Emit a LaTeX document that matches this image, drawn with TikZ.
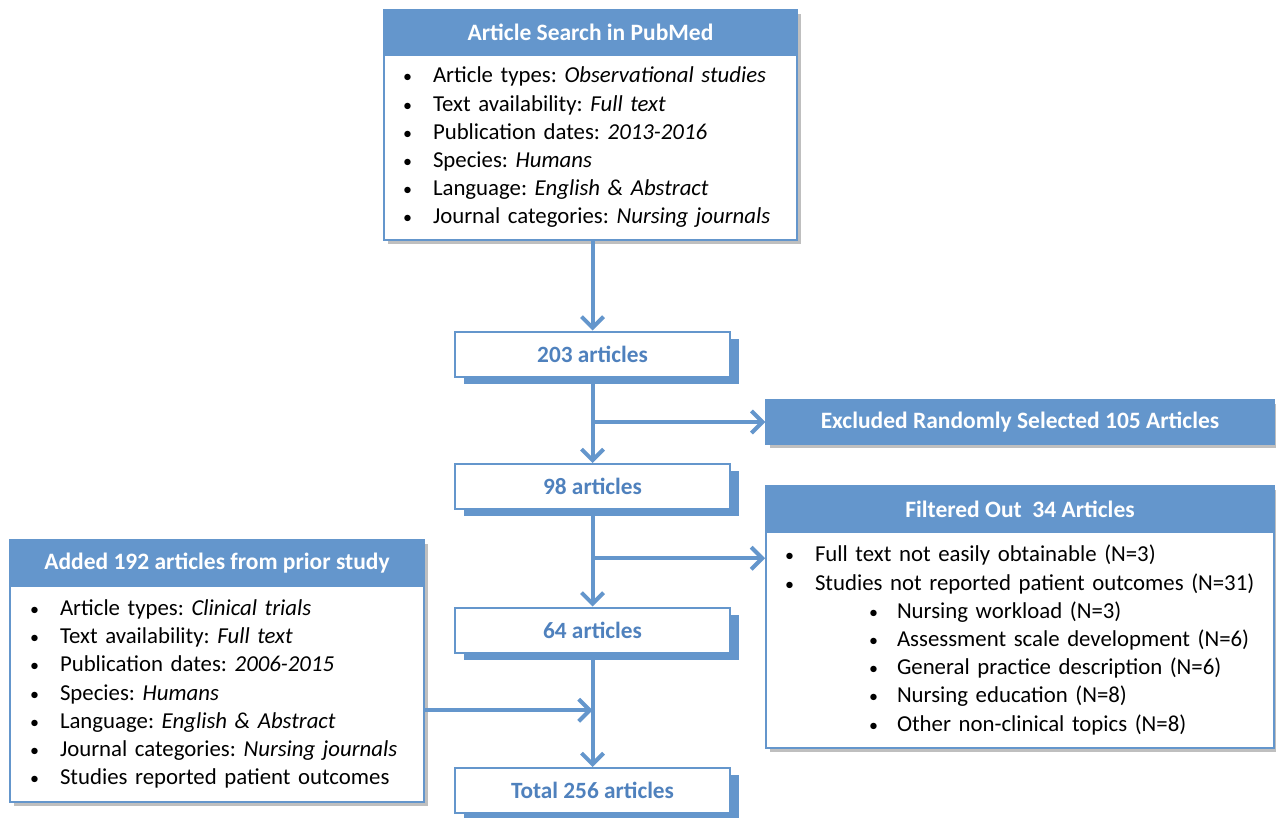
\documentclass[tikz,border=0pt]{standalone}
\usepackage{fontspec}
\setmainfont{Carlito}
\frenchspacing
\usetikzlibrary{arrows.meta,shadows,calc}
\definecolor{cblue}{RGB}{100,150,204}
\definecolor{ctext}{RGB}{79,129,189}
\newcommand\bdot{{\fontsize{18}{18}\selectfont\textbullet}}
\newcommand\bmain[1]{\makebox[30pt][l]{\bdot}#1}
\newcommand\bsub[1]{\hspace*{84pt}\makebox[28pt][l]{\bdot}#1}
\tikzset{
  softshadow/.style={drop shadow={shadow xshift=4pt,shadow yshift=-4pt,fill=black,opacity=0.25}},
  header/.style={rectangle,fill=cblue,draw=cblue,line width=1.5pt,text=white,
    font=\fontsize{23.5}{27}\selectfont\bfseries,inner sep=0pt,softshadow},
  body/.style={rectangle,fill=white,draw=cblue,line width=2pt,align=left,
    font=\fontsize{22.8}{28.2}\selectfont\frenchspacing,inner ysep=0pt,softshadow},
  small/.style={rectangle,fill=white,draw=cblue,line width=2pt,text=ctext,
    font=\fontsize{23.3}{27}\selectfont\bfseries,minimum width=275pt,minimum height=45pt,inner sep=0pt,
    drop shadow={shadow xshift=9pt,shadow yshift=-7pt,fill=cblue,opacity=1}},
  arr/.style={draw=cblue,line width=4pt,-{Straight Barb[length=11pt,width=22pt,line width=4pt]}}
}
\begin{document}
\begin{tikzpicture}[x=1pt,y=-1pt]
\useasboundingbox (0,0) rectangle (1276,818);
% top box
\node[header,minimum width=413pt,minimum height=45pt] (h1) at (590.5,32.5) {Article Search in PubMed};
\node[body,minimum width=413pt,minimum height=185pt,text width=375pt,inner xsep=19pt] (b1) at (590.5,147.5)
 {\bmain{Article types: \textit{Observational studies}}\\
  \bmain{Text availability: \textit{Full text}}\\
  \bmain{Publication dates: \textit{2013-2016}}\\
  \bmain{Species: \textit{Humans}}\\
  \bmain{Language: \textit{English \& Abstract}}\\
  \bmain{Journal categories: \textit{Nursing journals}}};
% small boxes
\node[small] (n203) at (592.5,354) {203 articles};
\node[small] (n98) at (592.5,486.5) {98 articles};
\node[small] (n64) at (592.5,630) {64 articles};
\node[small] (ntot) at (592.5,790.5) {Total 256 articles};
% excluded
\node[header,minimum width=508pt,minimum height=44pt] (excl) at (1020,422) {Excluded Randomly Selected 105 Articles};
% filtered
\node[header,minimum width=508pt,minimum height=46pt] (fh) at (1020,509) {Filtered Out\ \ 34 Articles};
\node[body,minimum width=508pt,minimum height=216pt,text width=470pt,inner xsep=19pt] (fb) at (1020,640)
 {\bmain{Full text not easily obtainable (N=3)}\\
  \bmain{Studies not reported patient outcomes (N=31)}\\
  \bsub{Nursing workload (N=3)}\\
  \bsub{Assessment scale development (N=6)}\\
  \bsub{General practice description (N=6)}\\
  \bsub{Nursing education (N=8)}\\
  \bsub{Other non-clinical topics (N=8)}};
% left box
\node[header,minimum width=414pt,minimum height=46pt] (lh) at (217,563) {Added 192 articles from prior study};
\node[body,minimum width=414pt,minimum height=216pt,text width=374pt,inner xsep=20pt] (lb) at (217,694)
 {\bmain{Article types: \textit{Clinical trials}}\\
  \bmain{Text availability: \textit{Full text}}\\
  \bmain{Publication dates: \textit{2006-2015}}\\
  \bmain{Species: \textit{Humans}}\\
  \bmain{Language: \textit{English \& Abstract}}\\
  \bmain{Journal categories: \textit{Nursing journals}}\\
  \bmain{Studies reported patient outcomes}};
% connectors
\draw[arr] (n203.north |- b1.south) -- (n203.north);
\draw[arr] (n203.south) -- (n98.north);
\coordinate (j1) at (n203.south |- excl.west);
\draw[arr] (j1) -- (excl.west);
\draw[arr] (n98.south) -- (n64.north);
\coordinate (j2) at ($(n98.south)!0.5!(n64.north)$);
\draw[arr] (j2) -- (j2 -| fb.west);
\draw[arr] (n64.south) -- (ntot.north);
\coordinate (j3) at ($(n64.south)!0.5!(ntot.north)$);
\draw[arr] (j3 -| lb.east) -- (j3);
\end{tikzpicture}
\end{document}
